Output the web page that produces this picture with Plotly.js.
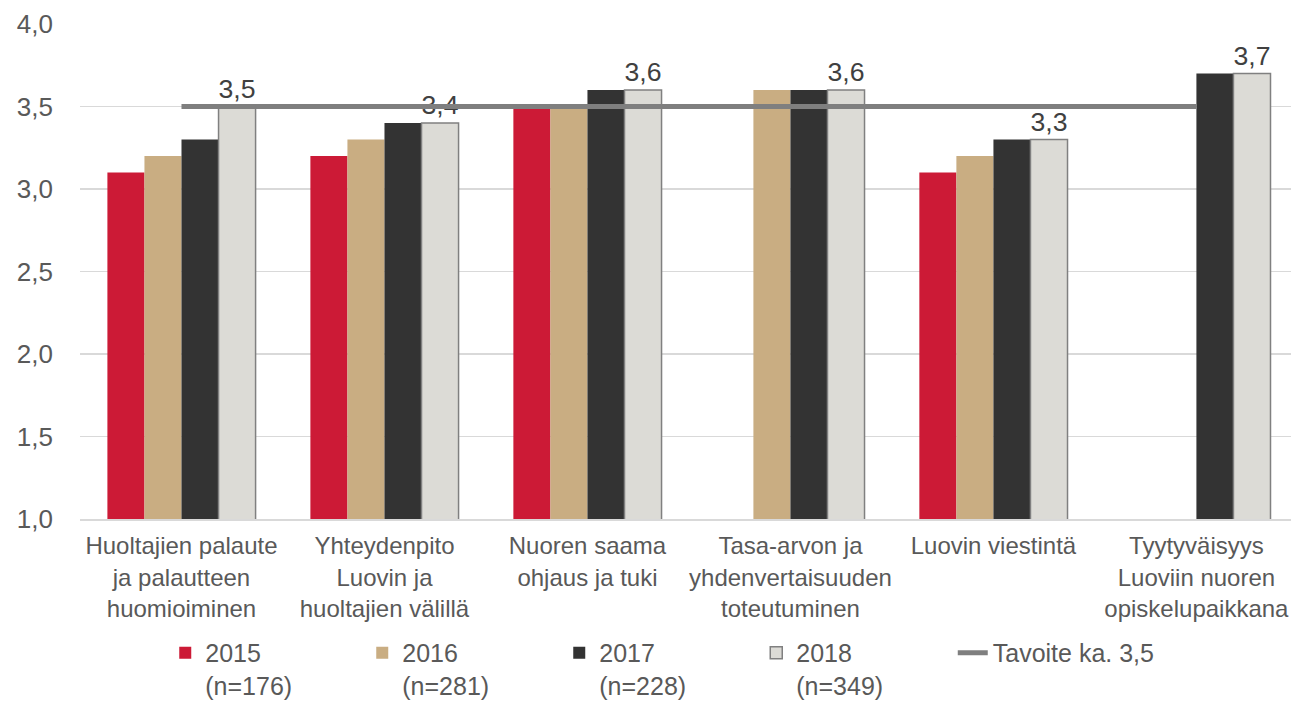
<!DOCTYPE html>
<html>
<head>
<meta charset="utf-8">
<script src="https://cdn.plot.ly/plotly-3.0.1.min.js"></script>
<style>
  html, body { margin: 0; padding: 0; background: #fff; }
  #chart { width: 1291px; height: 703px; }
</style>
</head>
<body>
<div id="chart"></div>
<script>
// categories (x axis)
var categories = [
  'Huoltajien palaute<br>ja palautteen<br>huomioiminen',
  'Yhteydenpito<br>Luovin ja<br>huoltajien välillä',
  'Nuoren saama<br>ohjaus ja tuki',
  'Tasa-arvon ja<br>yhdenvertaisuuden<br>toteutuminen',
  'Luovin viestintä',
  'Tyytyväisyys<br>Luoviin nuoren<br>opiskelupaikkana'
];

// series values
var v2015 = [3.1, 3.2, 3.5, null, 3.1, null];
var v2016 = [3.2, 3.3, 3.5, 3.6, 3.2, null];
var v2017 = [3.3, 3.4, 3.6, 3.6, 3.3, 3.7];
var v2018 = [3.5, 3.4, 3.6, 3.6, 3.3, 3.7];
var target = [3.5, 3.5, 3.5, 3.5, 3.5, 3.5];

var seriesNames = ['2015<br>(n=176)', '2016<br>(n=281)', '2017<br>(n=228)', '2018<br>(n=349)'];
var targetName = 'Tavoite ka. 3,5';

var FONT = 'Liberation Sans, Arial, sans-serif';
var TXT = '#595959';

function barTrace(name, values, color, line) {
  return {
    type: 'bar',
    name: name,
    x: categories,
    y: values,
    marker: { color: color, line: line || { width: 0 } },
    hoverinfo: 'skip'
  };
}

var traces = [
  barTrace(seriesNames[0], v2015, '#CC1A36'),
  barTrace(seriesNames[1], v2016, '#C9AD82'),
  barTrace(seriesNames[2], v2017, '#333333'),
  barTrace(seriesNames[3], v2018, '#DCDBD6', { color: '#808080', width: 1.5 })
];
// labels only on the 2018 bars
traces[3].texttemplate = '%{y:.1f}';
traces[3].textposition = 'outside';
traces[3].cliponaxis = false;
traces[3].textfont = { family: FONT, size: 28, color: '#404040' };

// target line gets its own legend so its label is not cut by entrywidth
traces.push({
  type: 'scatter',
  mode: 'lines',
  name: targetName,
  legend: 'legend2',
  x: categories,
  y: target,
  line: { color: '#7F7F7F', width: 5 },
  hoverinfo: 'skip'
});

var legendFont = { family: FONT, size: 25, color: TXT };

var layout = {
  width: 1291,
  height: 703,
  margin: { l: 80, r: 0, t: 24, b: 184 },
  paper_bgcolor: '#fff',
  plot_bgcolor: '#fff',
  separators: ', ',
  barmode: 'group',
  bargap: 0.27,
  bargroupgap: 0,
  font: { family: FONT, size: 24, color: TXT },
  xaxis: {
    type: 'category',
    range: [-0.5, 5.466],
    showgrid: false,
    showline: true,
    linecolor: '#D9D9D9',
    linewidth: 1.5,
    ticks: '',
    ticklabelstandoff: 5,
    tickfont: { family: FONT, size: 24, color: TXT }
  },
  yaxis: {
    range: [1, 4],
    dtick: 0.5,
    tick0: 1,
    tickformat: '.1f',
    showgrid: true,
    gridcolor: '#D9D9D9',
    gridwidth: 1.5,
    zeroline: false,
    showline: false,
    ticks: '',
    ticklabelstandoff: 26,
    tickfont: { family: FONT, size: 26, color: TXT }
  },
  showlegend: true,
  legend: {
    orientation: 'h',
    xref: 'container',
    yref: 'container',
    x: 0.128,
    xanchor: 'left',
    y: 0.104,
    yanchor: 'top',
    valign: 'top',
    entrywidth: 152,
    entrywidthmode: 'pixels',
    traceorder: 'normal',
    font: legendFont,
    bgcolor: 'rgba(0,0,0,0)'
  },
  legend2: {
    orientation: 'h',
    xref: 'container',
    yref: 'container',
    x: 0.738,
    xanchor: 'left',
    y: 0.104,
    yanchor: 'top',
    valign: 'top',
    font: legendFont,
    bgcolor: 'rgba(0,0,0,0)'
  }
};

Plotly.newPlot('chart', traces, layout, { displayModeBar: false, staticPlot: true });
</script>
</body>
</html>
